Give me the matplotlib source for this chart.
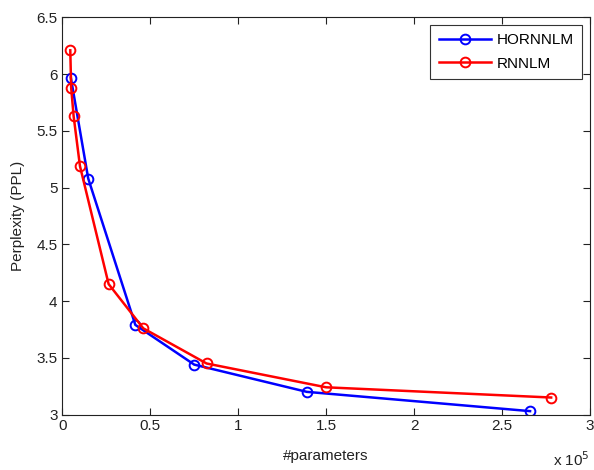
import matplotlib
matplotlib.use("Agg")
import matplotlib.pyplot as plt

plt.rcParams['font.family'] = ['Liberation Sans', 'DejaVu Sans']

# Data (x in number of parameters)
horn_params = [4800, 14700, 41500, 75000, 139000, 266000]
horn_ppl = [5.97, 5.08, 3.79, 3.44, 3.20, 3.03]
rnn_params = [4500, 5000, 6400, 10000, 26300, 46000, 82000, 150000, 278000]
rnn_ppl = [6.21, 5.88, 5.63, 5.19, 4.15, 3.76, 3.45, 3.24, 3.15]

xticks = [0, 0.5, 1, 1.5, 2, 2.5, 3]
xticklabels = ['0', '0.5', '1', '1.5', '2', '2.5', '3']
yticks = [3, 3.5, 4, 4.5, 5, 5.5, 6, 6.5]
yticklabels = ['3', '3.5', '4', '4.5', '5', '5.5', '6', '6.5']

fig = plt.figure(figsize=(5.94, 4.70), dpi=100)
ax = fig.add_axes([0.105, 0.118, 0.888, 0.845])

scale = 1e5
ax.plot([p / scale for p in horn_params], horn_ppl, color='#0000ff', lw=1.8,
        marker='o', ms=7, mfc='none', mew=1.4, label='HORNNLM')
ax.plot([p / scale for p in rnn_params], rnn_ppl, color='#ff0000', lw=1.8,
        marker='o', ms=7, mfc='none', mew=1.4, label='RNNLM')

ax.set_xlim(0, 3)
ax.set_ylim(3, 6.5)
ax.set_xticks(xticks)
ax.set_xticklabels(xticklabels)
ax.set_yticks(yticks)
ax.set_yticklabels(yticklabels)
ax.tick_params(direction='in', top=True, right=True, labelsize=11, length=5,
               width=0.8, colors='#222222', labelcolor='#222222')
for s in ax.spines.values():
    s.set_linewidth(0.8)
    s.set_color('#222222')

ax.set_xlabel('#parameters', fontsize=11, color='#222222', labelpad=11)
ax.set_ylabel('Perplexity (PPL)', fontsize=11, color='#222222', labelpad=8)
ax.text(1.0, -0.09, r'x 10$^5$', transform=ax.transAxes, ha='right', va='top',
        fontsize=11, color='#222222')

leg = ax.legend(loc='upper right', fontsize=11, fancybox=False, framealpha=1,
                edgecolor='#333333', handlelength=3.4, borderpad=0.55,
                labelspacing=0.6, handletextpad=0.4, borderaxespad=0.5)
leg.get_frame().set_linewidth(0.8)

fig.savefig('out.png', dpi=100)
